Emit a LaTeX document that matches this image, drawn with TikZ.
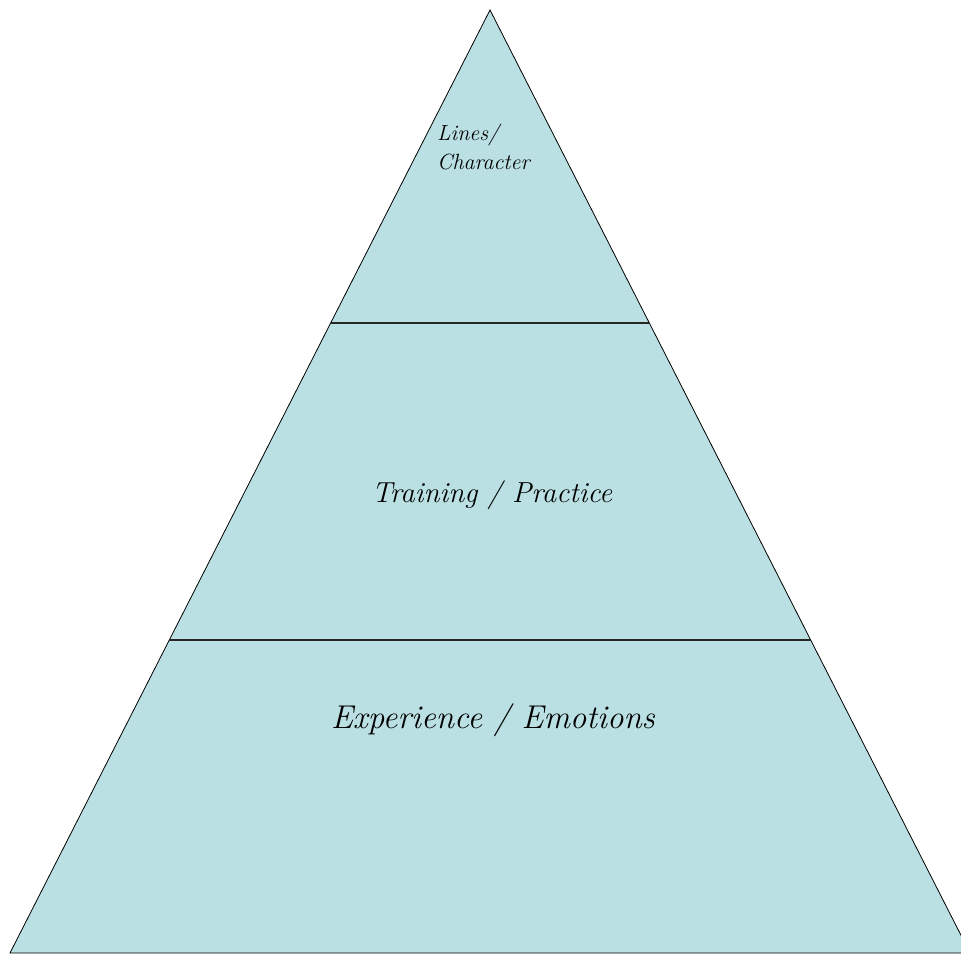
\documentclass[tikz,border=0pt]{standalone}
\usepackage{tikz}
\usetikzlibrary{calc}
\usetikzlibrary{positioning}

\definecolor{pyramidfill}{RGB}{186,224,227}

\begin{document}
\begin{tikzpicture}[x=1pt, y=1pt,
    layerline/.style={line width=1.6pt, draw=black!85},
    tiertext/.style={font=\itshape, inner sep=0pt}]
   \useasboundingbox (0, 0) rectangle (961, 953);
   \clip (0, 0) rectangle (961, 953);

   \coordinate (apex) at (490, 943);
   \coordinate (bl) at (10, 0);
   \coordinate (br) at (970, 0);

   \draw[fill=pyramidfill, line width=0.8pt] (bl) -- (apex) -- (br) -- cycle;

   % tier boundaries
   \draw[layerline] ($(apex)!0.3319!(bl)$) -- ($(apex)!0.3319!(br)$);
   \draw[layerline] ($(apex)!0.6681!(bl)$) -- ($(apex)!0.6681!(br)$);

   \node[tiertext, align=left, anchor=west, font=\itshape\fontsize{22}{29}\selectfont] (top) at (437, 806) {Lines/\\Character};
   \node[tiertext, font=\itshape\fontsize{29}{34}\selectfont] (middle) at (492, 458) {Training / Practice};
   \node[tiertext, font=\itshape\fontsize{33}{38}\selectfont] (bottom) at (493, 233) {Experience / Emotions};
\end{tikzpicture}
\end{document}
